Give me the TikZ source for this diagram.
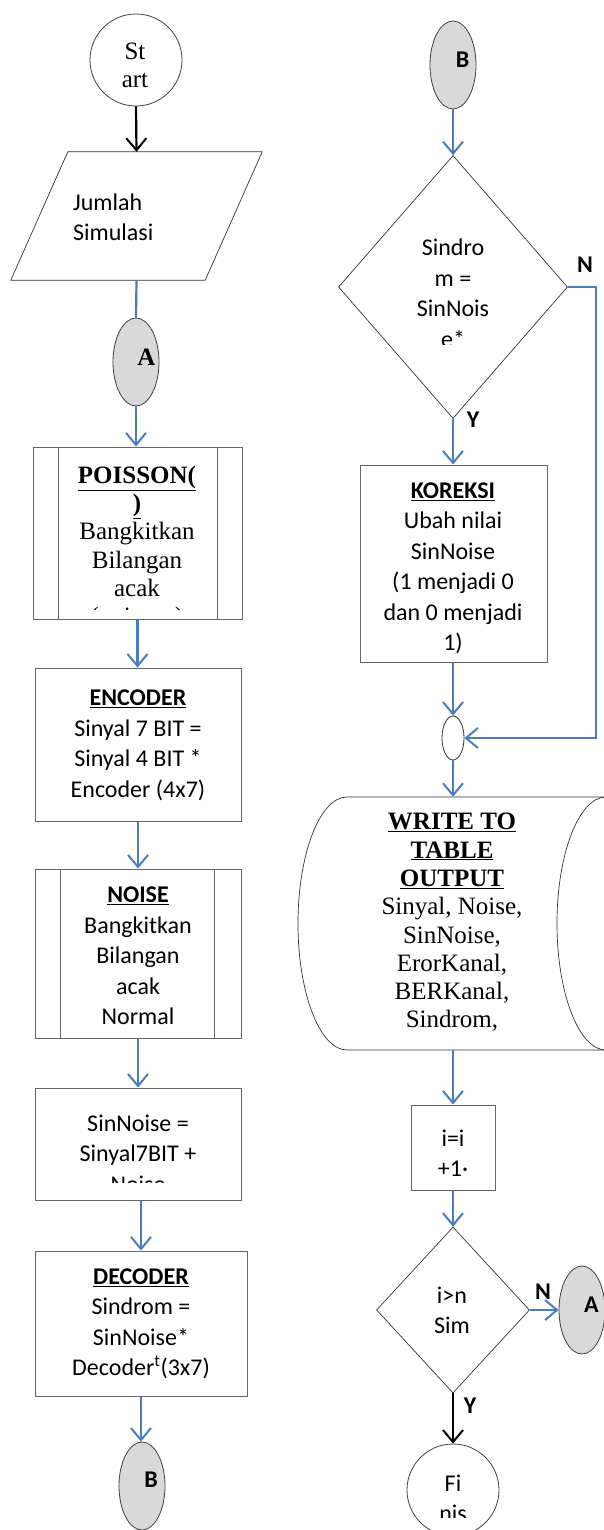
\documentclass[tikz,border=0pt]{standalone}
\usepackage{fontspec}
\usetikzlibrary{shapes.geometric,arrows.meta,calc}
\newfontfamily\calfnt{Carlito}
\newfontfamily\tmsfnt{Liberation Serif}
\definecolor{flowblue}{HTML}{4A7EBB}
\definecolor{cgray}{HTML}{D9D9D9}
\tikzset{
  flow/.style={draw=flowblue, line width=2.2pt, -{Straight Barb[length=12pt,width=20pt,line width=2pt]}},
  plainflow/.style={draw=flowblue, line width=2.2pt},
  blackflow/.style={draw=black, line width=2.2pt, -{Straight Barb[length=12pt,width=20pt,line width=2pt]}},
  box/.style={rectangle, draw=black!60, line width=1pt, inner sep=0pt},
  boxline/.style={draw=black!60, line width=1pt},
  thinline/.style={draw=black!80, line width=0.7pt},
  conn/.style={ellipse, draw=black!75, fill=cgray, line width=0.8pt, minimum width=46pt, minimum height=88pt, inner sep=0pt},
  term/.style={circle, draw=black!75, line width=0.8pt, minimum size=92pt, inner sep=0pt},
  dec/.style={diamond, draw=black!80, line width=0.7pt, inner sep=0pt},
  ghost/.style={rectangle, inner sep=0pt},
  ctxt/.style={font=\calfnt\fontsize{24}{30.5}\selectfont, align=center, inner sep=0pt},
  stxt/.style={font=\tmsfnt\fontsize{25}{28.3}\selectfont, align=center, inner sep=0pt},
  lbl/.style={font=\calfnt\bfseries\fontsize{24}{28}\selectfont, inner sep=0pt},
  slbl/.style={font=\tmsfnt\bfseries\fontsize{25}{28}\selectfont, inner sep=0pt},
}
\begin{document}
\begin{tikzpicture}[x=1pt,y=-1pt]
\useasboundingbox (0,0) rectangle (603,1530);

% ---------- left column ----------
\node[term] (start) at (136,60) {};
\node[stxt] (tstart) at (135,65) {St\\art};

\node[ghost, minimum width=251pt, minimum height=128pt] (input) at (136.5,216) {};
\draw[thinline] ($(input.north west)+(57,0)$) -- (input.north east) -- ($(input.south east)+(-57,0)$) -- (input.south west) -- cycle;
\node[ctxt, align=left, anchor=west] (tinput) at (73,217.5) {Jumlah\\Simulasi};

\node[conn] (A1) at (136,362) {};
\node[slbl] (tA1) at (146.5,357) {A};

\node[box, minimum width=209pt, minimum height=172pt] (poisson) at (137.5,533) {};
\draw[boxline] ($(poisson.north west)+(26,0)$) -- ($(poisson.south west)+(26,0)$);
\draw[boxline] ($(poisson.north east)+(-25,0)$) -- ($(poisson.south east)+(-25,0)$);
\begin{scope}
\clip (33,447) rectangle (242,609);
\node[stxt] (tpoisson) at (137,548) {\underline{\textbf{POISSON(}}\\\underline{\textbf{)}}\\Bangkitkan\\Bilangan\\acak\\(poisson)};
\end{scope}

\node[box, minimum width=206pt, minimum height=153pt] (encoder) at (138,744.5) {};
\node[ctxt] (tencoder) at (138,745.5) {\underline{\textbf{ENCODER}}\\Sinyal 7 BIT =\\Sinyal 4 BIT *\\Encoder (4x7)};

\node[box, minimum width=206pt, minimum height=169pt] (noise) at (138,953.5) {};
\draw[boxline] ($(noise.north west)+(26,0)$) -- ($(noise.south west)+(26,0)$);
\draw[boxline] ($(noise.north east)+(-27,0)$) -- ($(noise.south east)+(-27,0)$);
\node[ctxt] (tnoise) at (138,956) {\underline{\textbf{NOISE}}\\Bangkitkan\\Bilangan\\acak\\Normal};

\node[box, minimum width=206pt, minimum height=112pt] (sinnoise) at (138,1144) {};
\begin{scope}
\clip (35,1088) rectangle (241,1182);
\node[ctxt] (tsinnoise) at (138,1153.5) {SinNoise =\\Sinyal7BIT +\\Noise};
\end{scope}

\node[box, minimum width=212pt, minimum height=145pt] (decoder) at (141,1323.5) {};
\node[ctxt] (tdecoder) at (141,1324) {\underline{\textbf{DECODER}}\\Sindrom =\\SinNoise*\\Decoder\textsuperscript{t}(3x7)};

\node[conn] (B1) at (142,1486) {};
\node[lbl] (tB1) at (151,1480) {B};

% ---------- right column ----------
\node[conn] (B2) at (453,65) {};
\node[lbl] (tB2) at (462.5,60) {B};

\node[dec, minimum width=229pt, minimum height=263pt] (dia1) at (453,287) {};
\begin{scope}
\clip (338,155) rectangle (567,344);
\node[ctxt] (tdia1) at (453,293) {Sindro\\m =\\SinNois\\e*};
\end{scope}
\node[lbl] (n1) at (585,265) {N};
\node[lbl] (y1) at (473,420) {Y};
\coordinate (rt) at (596,287);

\node[box, minimum width=187pt, minimum height=197pt] (koreksi) at (453.5,563.5) {};
\node[ctxt] (tkoreksi) at (453,568.5) {\underline{\textbf{KOREKSI}}\\Ubah nilai\\SinNoise\\(1 menjadi 0\\dan 0 menjadi\\1)};

\node[ellipse, draw=black!80, line width=0.8pt, minimum width=22pt, minimum height=44pt, inner sep=0pt] (junction) at (453,738) {};

\node[ghost, minimum width=310pt, minimum height=253pt] (store) at (453,923.5) {};
\draw[thinline] (606,797) -- (347,797)
  .. controls (319.94,797) and (298,853.63) .. (298,923.5)
  .. controls (298,993.37) and (319.94,1050) .. (347,1050) -- (606,1050);
\draw[thinline] (606,923.5) ellipse [x radius=49pt, y radius=126.5pt];
\node[stxt] (tstore) at (452,922.5) {\underline{\textbf{WRITE TO}}\\\underline{\textbf{TABLE}}\\\underline{\textbf{OUTPUT}}\\Sinyal, Noise,\\SinNoise,\\ErorKanal,\\BERKanal,\\Sindrom,};

\node[box, minimum width=84pt, minimum height=85pt] (inc) at (453,1147.5) {};
\node[ctxt] (tinc) at (453,1153) {i=i\\+1·};

\node[dec, minimum width=153pt, minimum height=166pt] (dia2) at (453,1310) {};
\node[ctxt] (tdia2) at (452,1310.5) {i>n\\Sim};
\node[lbl] (n2) at (543,1292) {N};
\node[lbl] (y2) at (470,1406) {Y};

\node[conn] (A2) at (582,1310) {};
\node[lbl] (tA2) at (591.5,1305) {A};

\node[term] (finis) at (453,1490) {};
\begin{scope}
\clip (400,1440) rectangle (510,1517);
\node[ctxt] (tfinis) at (453,1498.5) {Fi\\nis};
\end{scope}

% ---------- connectors ----------
\draw[blackflow] (start.south) -- (input.north);
\draw[plainflow] (input.south) -- (A1.north);
\draw[flow] (A1.south) -- (poisson.north -| A1.south);
\draw[flow] (poisson.south) -- (encoder.north -| poisson.south);
\draw[flow] (encoder.south) -- (noise.north);
\draw[flow] (noise.south) -- (sinnoise.north);
\draw[flow] (sinnoise.south -| decoder.north) -- (decoder.north);
\draw[flow] (decoder.south) -- (B1.north -| decoder.south);

\draw[flow] (B2.south) -- (dia1.north);
\draw[flow] (dia1.south) -- (koreksi.north -| dia1.south);
\draw[flow] (dia1.east) -- (rt) |- (junction.east);
\draw[flow] (koreksi.south -| junction.north) -- (junction.north);
\draw[flow] (junction.south) -- (store.north);
\draw[flow] (store.south) -- (inc.north);
\draw[flow] (inc.south) -- (dia2.north);
\draw[flow] (dia2.east) -- (A2.west);
\draw[blackflow] (dia2.south) -- (finis.north);
\end{tikzpicture}
\end{document}
